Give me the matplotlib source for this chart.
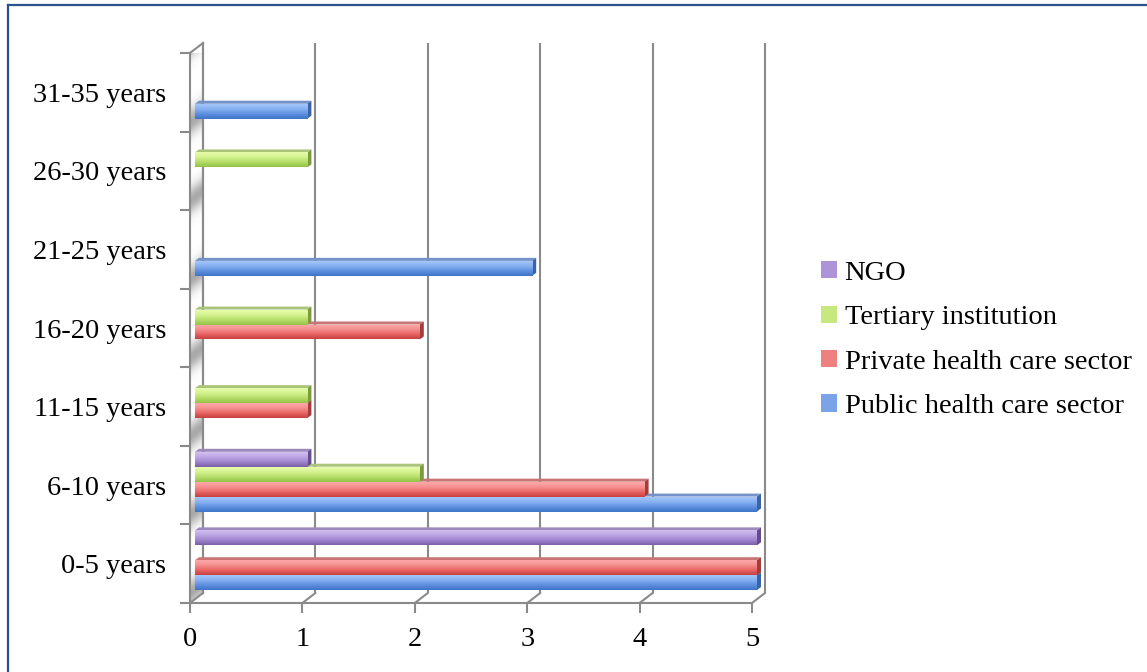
import numpy as np
import matplotlib.pyplot as plt
from matplotlib.patches import Polygon, Patch
from matplotlib.lines import Line2D
from matplotlib.colors import to_rgb

plt.rcParams["font.family"] = ["Liberation Serif", "DejaVu Serif"]

categories = ["0-5 years", "6-10 years", "11-15 years", "16-20 years",
              "21-25 years", "26-30 years", "31-35 years"]
public = [5, 5, 0, 0, 3, 0, 1]
private = [5, 4, 1, 2, 0, 0, 0]
tertiary = [0, 2, 1, 1, 0, 1, 0]
ngo = [5, 1, 0, 0, 0, 0, 0]
series_names = ["Public health care sector", "Private health care sector",
                "Tertiary institution", "NGO"]
series_vals = [public, private, tertiary, ngo]

# front-face gradient (top -> bottom), top face, side face
face_grad = [
    ["#a3c5f8", "#86b0f1", "#5e90df", "#3e74c8"],
    ["#fda8a8", "#f68f8f", "#e86565", "#c84141"],
    ["#e8fcab", "#d4f290", "#b6dd69", "#96c348"],
    ["#d2bff0", "#bca5e4", "#9f85cf", "#7c5fa9"],
]
top_col = ["#7393c8", "#c97575", "#abc47c", "#9e89bd"]
side_col = ["#3b64a4", "#a43c3c", "#7b9b3e", "#644b8b"]
legend_col = ["#7aa3e8", "#ee8080", "#c6e87e", "#ad94d9"]

grid = "#8a8a8a"
fs = 20.5
W, H = 1147, 672
fig = plt.figure(figsize=(W / 100, H / 100), dpi=100)
x_l, x_r, y_t, y_b = 190, 752, 53, 603
ax = fig.add_axes([x_l / W, 1 - y_b / H, (x_r - x_l) / W, (y_b - y_t) / H])
n_cat = len(categories)
ax.set_xlim(0, 5)
ax.set_ylim(-0.5, n_cat - 0.5)

# pixel offsets expressed in data units
px_x = (x_r - x_l) / 5
px_y = (y_b - y_t) / n_cat
DX, DY = 13 / px_x, 10 / px_y      # depth of back wall
BX, BY = 5 / px_x, 3.5 / px_y      # bars sit a bit behind the front plane
SX, SY = 4 / px_x, 3 / px_y        # bar thickness

y_lo, y_hi = -0.5, n_cat - 0.5

# back wall gridlines and floor diagonals
for x in range(6):
    ax.plot([x + DX, x + DX], [y_lo + DY, y_hi + DY], color=grid, lw=1.5,
            clip_on=False, zorder=1, solid_capstyle="butt")
    ax.plot([x, x + DX], [y_lo, y_lo + DY], color=grid, lw=1.5,
            clip_on=False, zorder=1)

# left side wall with soft shading
wall = Polygon([(0, y_lo), (DX, y_lo + DY), (DX, y_hi + DY), (0, y_hi)],
               closed=True, facecolor="white", edgecolor="none",
               clip_on=False, zorder=0.5)
ax.add_patch(wall)
ny, nx = 700, 20
yy = np.linspace(y_hi + DY, y_lo, ny)[:, None]
tt = np.linspace(0, 1, nx)[None, :]
y_eff = yy - tt * DY
d = (y_eff - y_lo) % 1.0
d = np.where(d > 0.5, d - 1.0, d)
alpha = 0.65 * np.exp(-((d - 0.12) / 0.17) ** 2)
shade = np.zeros((ny, nx, 4))
shade[..., :3] = 0.48
shade[..., 3] = alpha
im = ax.imshow(shade, extent=(0, DX, y_lo, y_hi + DY), aspect="auto",
               interpolation="bilinear", zorder=0.6)
im.set_clip_path(wall)
ax.plot([DX, DX], [y_lo + DY, y_hi + DY], color=grid, lw=1.5, clip_on=False,
        zorder=1)
ax.plot([0, DX], [y_hi, y_hi + DY], color=grid, lw=1.5, clip_on=False,
        zorder=1)

# bars
h = 0.19
pos = np.arange(n_cat)
for i, vals in enumerate(series_vals):
    ys = pos + (i - 1.5) * h + BY
    z = 3 + 2 * i
    bars = ax.barh(ys, vals, height=h, left=BX, color=legend_col[i],
                   edgecolor="none", zorder=z + 1, label=series_names[i])
    grad = np.array([to_rgb(c) for c in face_grad[i]])
    rows = np.linspace(0, 1, 32)
    g = np.stack([np.interp(rows, np.linspace(0, 1, 4), grad[:, k])
                  for k in range(3)], axis=-1)[:, None, :]
    for b, v in zip(bars, vals):
        if v == 0:
            continue
        x0, y0 = b.get_x(), b.get_y()
        x1, y1 = x0 + b.get_width(), y0 + b.get_height()
        ax.add_patch(Polygon([(x0, y1), (x1, y1), (x1 + SX, y1 + SY),
                              (x0 + SX, y1 + SY)], closed=True,
                             facecolor=top_col[i], edgecolor="none",
                             zorder=z, clip_on=False))
        ax.add_patch(Polygon([(x1, y0), (x1 + SX, y0 + SY), (x1 + SX, y1 + SY),
                              (x1, y1)], closed=True, facecolor=side_col[i],
                             edgecolor="none", zorder=z, clip_on=False))
        gi = ax.imshow(g, extent=(x0, x1, y0, y1), aspect="auto",
                       interpolation="bilinear", zorder=z + 1.5)
        gi.set_clip_path(b)

ax.set_xlim(0, 5)
ax.set_ylim(y_lo, y_hi)

# front axes
for s in ["top", "right"]:
    ax.spines[s].set_visible(False)
for s in ["left", "bottom"]:
    ax.spines[s].set_color(grid)
    ax.spines[s].set_linewidth(1.5)
    ax.spines[s].set_zorder(2)
ax.set_facecolor("none")
ax.set_xticks(range(6))
ax.tick_params(axis="x", length=7, width=1.5, color=grid, pad=10.5,
               labelsize=fs)
ax.set_yticks(pos, categories)
ax.set_yticks(np.arange(y_lo, y_hi + 0.01, 1), minor=True)
ax.tick_params(axis="y", which="major", length=0, pad=17, labelsize=fs)
ax.tick_params(axis="y", which="minor", length=7, width=1.5, color=grid)

handles = [Patch(facecolor=legend_col[i], edgecolor="none")
           for i in range(3, -1, -1)]
labels = [series_names[i] for i in range(3, -1, -1)]
fig.legend(handles, labels, loc="center left",
           bbox_to_anchor=(821 / W, 1 - 340 / H), frameon=False,
           fontsize=fs, handlelength=0.55, handleheight=0.55,
           handletextpad=0.28, labelspacing=0.68, borderpad=0,
           borderaxespad=0)

# chart frame
fig.add_artist(Line2D([8 / W, 8 / W], [0, 1 - 5 / H], color="#2d5190",
                      lw=1.6, transform=fig.transFigure))
fig.add_artist(Line2D([8 / W, 1], [1 - 5 / H, 1 - 5 / H], color="#2d5190",
                      lw=1.6, transform=fig.transFigure))

fig.savefig("out.png", dpi=100)
